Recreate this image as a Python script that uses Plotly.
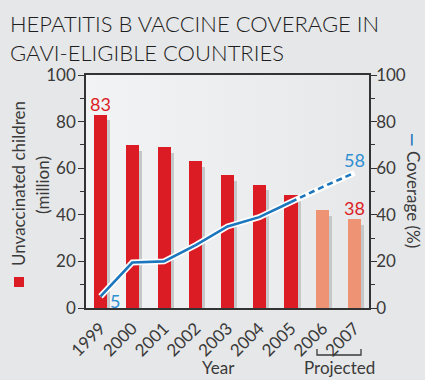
import base64
import plotly.graph_objects as go

years = ["1999", "2000", "2001", "2002", "2003", "2004", "2005", "2006", "2007"]
unvaccinated = [83, 70, 69, 63, 57, 53, 48.5, 42, 38]
coverage = [5, 19.5, 20, 27, 35, 39, 45.5, 52, 58]
projected = [False, False, False, False, False, False, False, True, True]

RED = "#dc1c24"
SALMON = "#ef9375"
BLUE = "#1b76bd"
LBLUE = "#2e8fd2"
TXT = "#3a3a3a"
FONT = "Lato"

W, H = 425, 380
L, R, T, B = 86, 369, 75, 308

def px(x):
    return (x - L) / (R - L)

def py(y):
    return (B - y) / (B - T)

idx = list(range(len(years)))
bar_colors = [SALMON if p else RED for p in projected]
shadow = [v - 2.5 for v in unvaccinated]

fig = go.Figure()
fig.add_trace(go.Bar(x=[i + 0.1 for i in idx], y=shadow, width=0.41,
                     marker=dict(color="#c6c7c8", line=dict(width=0)),
                     hoverinfo="skip", showlegend=False))
fig.add_trace(go.Bar(x=idx, y=unvaccinated, width=0.41,
                     marker=dict(color=bar_colors, line=dict(width=0)),
                     showlegend=False))

last_actual = max(i for i in idx if not projected[i])
fig.add_trace(go.Scatter(x=idx, y=coverage, yaxis="y2", mode="lines",
                         line=dict(color="white", width=6), showlegend=False,
                         hoverinfo="skip"))
fig.add_trace(go.Scatter(x=idx[:last_actual + 1], y=coverage[:last_actual + 1],
                         yaxis="y2", mode="lines",
                         line=dict(color=BLUE, width=2.6), showlegend=False))
fig.add_trace(go.Scatter(x=idx[last_actual:], y=coverage[last_actual:],
                         yaxis="y2", mode="lines",
                         line=dict(color=BLUE, width=2.6, dash="6px,4px"),
                         showlegend=False))

axis_line = "#333333"
tickfont = dict(family=FONT, size=17, color=TXT)

# horizontal gradient background for plot area
svg = ("<svg xmlns='http://www.w3.org/2000/svg' width='100' height='100' preserveAspectRatio='none'>"
       "<defs><linearGradient id='g' x1='0' y1='0' x2='1' y2='0'>"
       "<stop offset='0' stop-color='#f2f3f4'/><stop offset='1' stop-color='#e7e8e9'/>"
       "</linearGradient></defs><rect width='100' height='100' fill='url(#g)'/></svg>")
src = "data:image/svg+xml;base64," + base64.b64encode(svg.encode()).decode()

fig.update_layout(
    width=W, height=H,
    margin=dict(l=L, r=W - R, t=T, b=H - B, pad=0),
    paper_bgcolor="#e6e7e8",
    plot_bgcolor="#eeeff0",
    barmode="overlay",
    bargap=0,
    images=[dict(source=src, xref="paper", yref="paper", x=0, y=1,
                 sizex=1, sizey=1, xanchor="left", yanchor="top",
                 sizing="stretch", layer="below")],
    xaxis=dict(range=[-0.457, 8.457], tickmode="array", tickvals=idx,
               ticktext=years, tickangle=-45, tickfont=tickfont,
               showline=True, linecolor=axis_line, linewidth=1.5, mirror=True,
               ticks="", showgrid=False, zeroline=False, fixedrange=True,
               ticklabelstandoff=2),
    yaxis=dict(range=[0, 100], tickvals=[0, 20, 40, 60, 80, 100],
               tickfont=tickfont, showline=True, linecolor=axis_line,
               linewidth=1.5, ticks="outside", ticklen=6, tickwidth=1.2,
               tickcolor=axis_line, ticklabelstandoff=-1,
               minor=dict(dtick=10, ticks="outside", ticklen=4, tickwidth=1,
                          tickcolor=axis_line, showgrid=False),
               showgrid=False, zeroline=False),
    yaxis2=dict(range=[0, 100], tickvals=[0, 20, 40, 60, 80, 100],
                overlaying="y", side="right", tickfont=tickfont,
                showline=True, linecolor=axis_line, linewidth=1.5,
                ticks="outside", ticklen=6, tickwidth=1.2, tickcolor=axis_line,
                ticklabelstandoff=-4,
                minor=dict(dtick=10, ticks="outside", ticklen=4, tickwidth=1,
                           tickcolor=axis_line, showgrid=False),
                showgrid=False, zeroline=False),
)

def f(size, color=TXT, weight=400):
    return dict(family=FONT, size=size, color=color, weight=weight)

ann = []
# title
ann.append(dict(xref="paper", yref="paper", x=px(8), y=py(8), xanchor="left",
                yanchor="top", align="left", showarrow=False,
                text="HEPATITIS B VACCINE COVERAGE IN<br>GAVI-ELIGIBLE COUNTRIES",
                font=f(22, "#1e1e1e", 300)))
# axis titles
ann.append(dict(xref="paper", yref="paper", x=px(18), y=py(184), textangle=-90,
                xanchor="center", yanchor="middle",
                showarrow=False, text="Unvaccinated children", font=f(17)))
ann.append(dict(xref="paper", yref="paper", x=px(42), y=py(185), textangle=-90,
                xanchor="center", yanchor="middle",
                showarrow=False, text="(million)", font=f(17)))
ann.append(dict(xref="paper", yref="paper", x=px(414), y=py(190), textangle=90,
                xanchor="center", yanchor="middle",
                showarrow=False,
                text=f"<span style='color:{BLUE}'><b>—</b></span> Coverage (%)",
                font=f(17)))
ann.append(dict(xref="paper", yref="paper", x=px(218), y=py(367),
                xanchor="center", yanchor="middle",
                showarrow=False, text="Year", font=f(17)))
ann.append(dict(xref="paper", yref="paper", x=px(339), y=py(367),
                xanchor="center", yanchor="middle",
                showarrow=False, text="Projected", font=f(17)))
# data labels
ann.append(dict(x=0, y=unvaccinated[0], yref="y", showarrow=False,
                xanchor="center", yanchor="bottom", yshift=-2,
                text=str(unvaccinated[0]), font=f(18, RED)))
ann.append(dict(x=8, y=unvaccinated[8], yref="y", showarrow=False,
                xanchor="center", yanchor="bottom", yshift=-2,
                text=str(unvaccinated[8]), font=f(18, RED)))
ann.append(dict(x=8, y=coverage[8], yref="y2", showarrow=False,
                xanchor="center", yanchor="bottom", yshift=0,
                text=str(coverage[8]), font=f(18, LBLUE)))
ann.append(dict(x=0, y=coverage[0], yref="y2", showarrow=False,
                xanchor="left", yanchor="middle", xshift=7, yshift=-5,
                text=str(coverage[0]), font=f(18, LBLUE)))
fig.update_layout(annotations=ann)

shapes = [
    dict(type="rect", xref="paper", yref="paper", x0=px(14), x1=px(24),
         y0=py(287), y1=py(277), fillcolor=RED, line=dict(width=0)),
    dict(type="path", xref="paper", yref="paper",
         path=f"M {px(317)} {py(349)} L {px(317)} {py(355)} L {px(361)} {py(355)} L {px(361)} {py(349)}",
         line=dict(color=TXT, width=1.3)),
]
fig.update_layout(shapes=shapes)

fig.write_html("out.html")
